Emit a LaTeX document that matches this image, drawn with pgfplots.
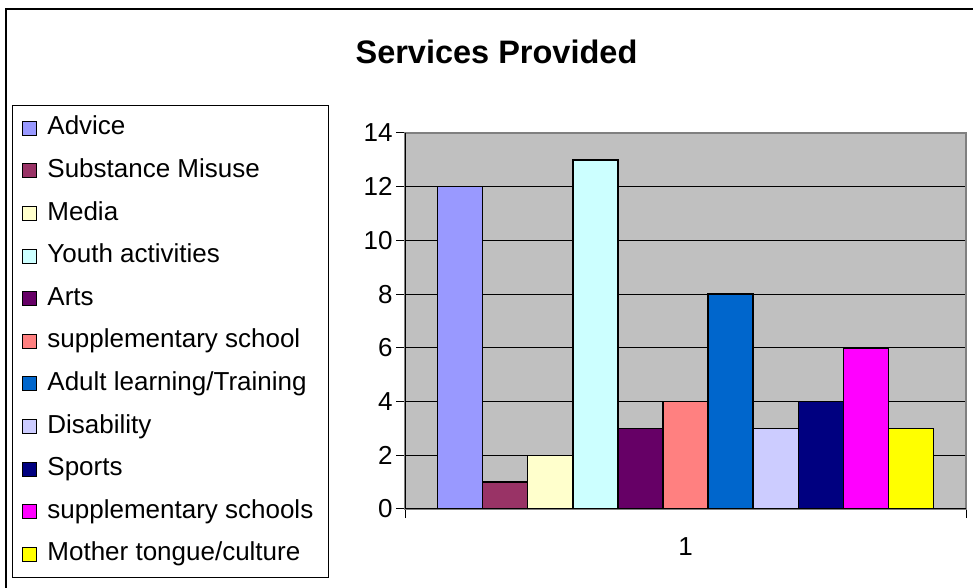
\documentclass[border=0pt]{standalone}
\usepackage{fontspec}
\setmainfont{Liberation Sans}
\usepackage{pgfplots}
\pgfplotsset{compat=1.18}

\definecolor{plotgray}{HTML}{C0C0C0}
\definecolor{linegray}{HTML}{808080}
\definecolor{cAdvice}{HTML}{9999FF}
\definecolor{cSubst}{HTML}{993366}
\definecolor{cMedia}{HTML}{FFFFCC}
\definecolor{cYouth}{HTML}{CCFFFF}
\definecolor{cArts}{HTML}{660066}
\definecolor{cSuppl}{HTML}{FF8080}
\definecolor{cAdult}{HTML}{0066CC}
\definecolor{cDisab}{HTML}{CCCCFF}
\definecolor{cSports}{HTML}{000080}
\definecolor{cSupps}{HTML}{FF00FF}
\definecolor{cMother}{HTML}{FFFF00}

\begin{document}
\begin{tikzpicture}
\useasboundingbox (0,0) rectangle (973pt,588pt);
% frame (only left and top edges are visible)
\draw[line width=2pt] (6pt,0pt) -- (6pt,579pt) -- (973pt,579pt);
\node[anchor=base, font=\bfseries\fontsize{32.5}{39}\selectfont] at (496.5pt,524pt) {Services Provided};

\begin{axis}[
    at={(405pt,79pt)}, anchor=south west,
    scale only axis,
    width=561pt, height=376pt,
    ybar=0pt, bar width=45.1pt,
    xmin=0.5, xmax=1.5,
    ymin=0, ymax=14,
    xtick={1}, xticklabels={1},
    minor xtick={0.5,1.5},
    ytick={0,2,...,14},
    ymajorgrids,
    grid style={black, line width=0.9pt},
    axis background/.style={fill=plotgray},
    axis line style={draw=linegray, line width=1.2pt},
    tick pos=left, tick align=outside,
    major tick length=9pt, minor tick length=9pt,
    major x tick style={draw=none},
    minor x tick style={black, line width=1pt},
    major y tick style={black, line width=1pt},
    tick label style={font=\fontsize{26}{31}\selectfont},
    /pgf/number format/assume math mode=true,
    xticklabel style={yshift=-16pt},
    every axis plot/.append style={draw=black, line width=1.5pt,
        legend image code/.code={\draw[#1, line width=1pt] (0pt,-7pt) rectangle (14pt,7pt);}},
    legend cell align=left,
    legend style={at={(-0.7005,1.0745)}, anchor=north west,
        draw=black, line width=0.8pt, fill=white,
        font=\fontsize{26}{31}\selectfont,
        inner xsep=10pt, inner ysep=10.5pt,
        row sep=17.6pt, column sep=5pt,
        nodes={inner xsep=5pt, inner ysep=0pt, text height=19pt, text depth=6pt},
        cells={anchor=west}},
]
\addplot[fill=cAdvice] coordinates {(1,12)};
\addplot[fill=cSubst] coordinates {(1,1)};
\addplot[fill=cMedia] coordinates {(1,2)};
\addplot[fill=cYouth] coordinates {(1,13)};
\addplot[fill=cArts] coordinates {(1,3)};
\addplot[fill=cSuppl] coordinates {(1,4)};
\addplot[fill=cAdult] coordinates {(1,8)};
\addplot[fill=cDisab] coordinates {(1,3)};
\addplot[fill=cSports] coordinates {(1,4)};
\addplot[fill=cSupps] coordinates {(1,6)};
\addplot[fill=cMother] coordinates {(1,3)};
\legend{Advice, Substance Misuse, Media, Youth activities, Arts,
    supplementary school, Adult learning/Training, Disability, Sports,
    supplementary schools, Mother tongue/culture}
\draw[black, line width=1.5pt] (rel axis cs:0,1) -- (rel axis cs:0,0) -- (rel axis cs:1,0);
\end{axis}
\end{tikzpicture}
\end{document}
